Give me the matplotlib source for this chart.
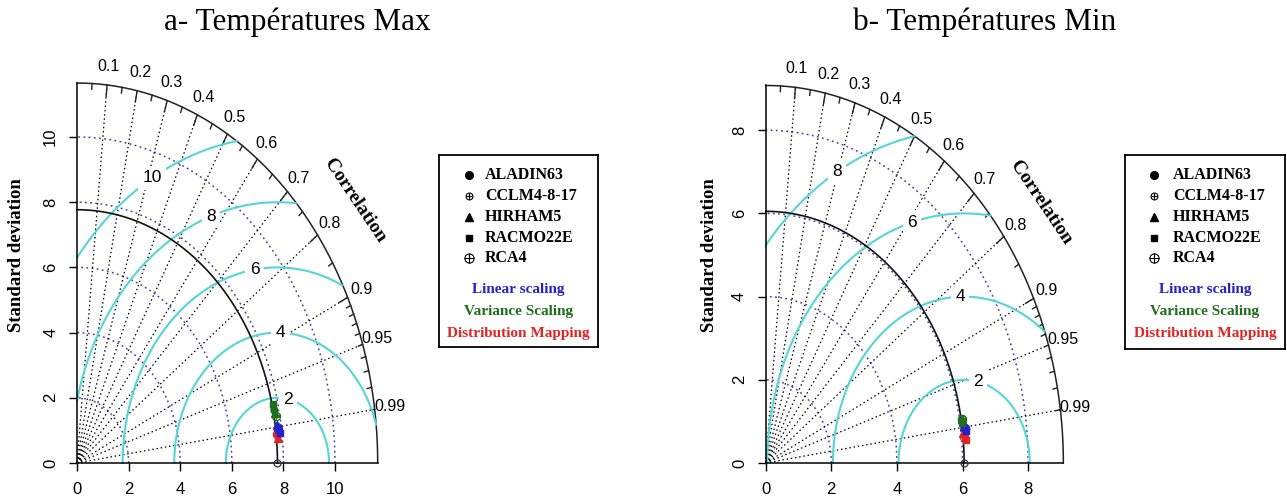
import numpy as np
import matplotlib.pyplot as plt

# figure size in pixels
W, H = 1287, 501

models = ['ALADIN63', 'CCLM4-8-17', 'HIRHAM5', 'RACMO22E', 'RCA4']
methods = ['Linear scaling', 'Variance Scaling', 'Distribution Mapping']
method_cols = ['#2323c8', '#1e6e1e', '#e02525']
corr_labels = [0.1, 0.2, 0.3, 0.4, 0.5, 0.6, 0.7, 0.8, 0.9, 0.95, 0.99]

# a- Temperatures Max
tmax_ref_sd = 7.77
tmax_ticks = [0, 2, 4, 6, 8, 10]
tmax_gammas = [2, 4, 6, 8, 10]
tmax_ls_sd = [7.86, 7.90, 7.84, 7.92, 7.88]
tmax_ls_cor = [0.990, 0.992, 0.989, 0.993, 0.991]
tmax_vs_sd = [7.82, 7.80, 7.84, 7.79, 7.83]
tmax_vs_cor = [0.978, 0.975, 0.981, 0.973, 0.983]
tmax_dm_sd = [7.80, 7.86, 7.83, 7.88, 7.82]
tmax_dm_cor = [0.994, 0.992, 0.995, 0.993, 0.9935]

# b- Temperatures Min
tmin_ref_sd = 6.05
tmin_ticks = [0, 2, 4, 6, 8]
tmin_gammas = [2, 4, 6, 8]
tmin_ls_sd = [6.12, 6.15, 6.10, 6.17, 6.13]
tmin_ls_cor = [0.990, 0.991, 0.9895, 0.992, 0.9905]
tmin_vs_sd = [6.06, 6.08, 6.07, 6.05, 6.09]
tmin_vs_cor = [0.986, 0.984, 0.985, 0.987, 0.9845]
tmin_dm_sd = [6.09, 6.11, 6.07, 6.12, 6.08]
tmin_dm_cor = [0.994, 0.995, 0.993, 0.996, 0.9945]

SANS = 'Liberation Sans'
SERIF = 'Liberation Serif'
BLUE_ARC = '#4444a8'
CYAN = '#55d5d5'
DOT = (0, (1.2, 2.2))


def model_marker(ax, x, y, k, col, big=1.0):
    # marker shapes as in R pch: 16, 10 (small), 17, 15, 10
    kw = dict(color=col, clip_on=False, zorder=10, linestyle='none')
    if k == 0:
        ax.plot(x, y, marker='o', ms=5 * big, mec=col, mfc=col, **kw)
    elif k == 1:
        ax.plot(x, y, marker='o', ms=4.5 * big, mfc='none', mew=0.8, **kw)
        ax.plot(x, y, marker='+', ms=4.5 * big, mew=0.8, **kw)
    elif k == 2:
        ax.plot(x, y, marker='^', ms=5.5 * big, mec=col, mfc=col, **kw)
    elif k == 3:
        ax.plot(x, y, marker='s', ms=4.5 * big, mec=col, mfc=col, **kw)
    else:
        ax.plot(x, y, marker='o', ms=6 * big, mfc='none', mew=0.8, **kw)
        ax.plot(x, y, marker='+', ms=6 * big, mew=0.8, **kw)


def taylor(fig, ox, oy, sx, sy, ref, ticks, gammas, series, title, tx):
    maxsd = 1.5 * ref
    ax = fig.add_axes([ox / W, (H - oy) / H, sx * maxsd / W, sy * maxsd / H])
    ax.set_xlim(0, maxsd)
    ax.set_ylim(0, maxsd)
    ax.patch.set_visible(False)
    for s in ['top', 'right']:
        ax.spines[s].set_visible(False)
    for s in ['bottom', 'left']:
        ax.spines[s].set_linewidth(1.1)
    ax.set_xticks(ticks)
    ax.set_yticks(ticks)
    ax.set_yticklabels([str(t) for t in ticks], rotation=90, va='center')
    ax.tick_params(axis='x', direction='out', length=5.5, width=1, pad=8,
                   labelsize=12)
    ax.tick_params(axis='y', direction='out', length=5.5, width=1, pad=8,
                   labelsize=12)
    for lab in ax.get_xticklabels() + ax.get_yticklabels():
        lab.set_family(SANS)

    t = np.linspace(0, np.pi / 2, 300)
    # sd arcs
    for s in ticks[1:]:
        ax.plot(s * np.cos(t), s * np.sin(t), color=BLUE_ARC, lw=1.1,
                ls=DOT, clip_on=False)
    # outer arc
    ax.plot(maxsd * np.cos(t), maxsd * np.sin(t), color='#222222', lw=1.1,
            clip_on=False)
    # correlation lines
    for c in corr_labels:
        a = np.arccos(c)
        ax.plot([0, maxsd * np.cos(a)], [0, maxsd * np.sin(a)], color='black',
                lw=0.9, ls=DOT, clip_on=False)
        ax.text(1.05 * maxsd * np.cos(a), 1.05 * maxsd * np.sin(a), str(c),
                ha='center', va='center', fontsize=11.5, family=SANS)
    # ticks on outer arc
    for c in np.arange(0.1, 0.95, 0.1):
        a = np.arccos(c)
        ax.plot([maxsd * np.cos(a), 0.97 * maxsd * np.cos(a)],
                [maxsd * np.sin(a), 0.97 * maxsd * np.sin(a)],
                color='#222222', lw=1, clip_on=False)
    for c in list(np.arange(0.05, 0.9, 0.1)) + list(np.arange(0.91, 1.0, 0.01)):
        a = np.arccos(c)
        ax.plot([maxsd * np.cos(a), 0.985 * maxsd * np.cos(a)],
                [maxsd * np.sin(a), 0.985 * maxsd * np.sin(a)],
                color='#222222', lw=1, clip_on=False)
    # centred RMS arcs
    tg = np.linspace(0, np.pi, 600)
    labang = np.radians(np.linspace(78, 119, len(gammas)))
    for g, la in zip(gammas, labang):
        gx = ref + g * np.cos(tg)
        gy = g * np.sin(tg)
        keep = (gx >= 0) & (gx ** 2 + gy ** 2 <= maxsd ** 2)
        ax.plot(np.where(keep, gx, np.nan), np.where(keep, gy, np.nan),
                color=CYAN, lw=1.5, clip_on=False)
        ax.text(ref + g * np.cos(la), g * np.sin(la), str(g), ha='center',
                va='center', fontsize=12.5, family=SANS, zorder=8,
                bbox=dict(boxstyle='square,pad=0.25', fc='white', ec='none'))
    # reference sd arc and point
    ax.plot(ref * np.cos(t), ref * np.sin(t), color='#111111', lw=1.2,
            clip_on=False)
    ax.plot(ref, 0, marker='o', ms=5, mfc='none', mec='#333333', mew=0.9,
            clip_on=False, zorder=11)
    # model points, one colour per correction method
    for sds, cors, col in series:
        for k, (s, c) in enumerate(zip(sds, cors)):
            a = np.arccos(c)
            model_marker(ax, s * np.cos(a), s * np.sin(a), k, col)

    ax.text(0.925 * maxsd, 0.69 * maxsd, 'Correlation', rotation=-56,
            rotation_mode='anchor', ha='center', va='center', fontsize=14,
            family=SERIF, weight='bold')
    fig.text(tx / W, 1 - 22 / H, title, ha='center', va='center',
             fontsize=22.5, family=SERIF)
    return ax


def legend_box(fig, x0, y0, x1, y1, mx, tx):
    lax = fig.add_axes([x0 / W, (H - y1) / H, (x1 - x0) / W, (y1 - y0) / H])
    lax.set_xlim(x0, x1)
    lax.set_ylim(y1, y0)
    lax.set_xticks([])
    lax.set_yticks([])
    for s in lax.spines.values():
        s.set_linewidth(1.3)
    rows = [175, 196, 217, 238, 258]
    for k, (m, yy) in enumerate(zip(models, rows)):
        model_marker(lax, mx, yy, k, 'black', big=1.1)
        lax.text(tx, yy, m, ha='left', va='center', fontsize=11.5,
                 family=SERIF, weight='bold')
    for m, col, yy in zip(methods, method_cols, [290, 312, 333]):
        lax.text((x0 + x1) / 2, yy, m, ha='center', va='center',
                 fontsize=11, family=SERIF, weight='bold', color=col)


fig = plt.figure(figsize=(W / 100, H / 100), dpi=100)

ls_c, vs_c, dm_c = method_cols
taylor(fig, 77, 463, 25.8, 32.6, tmax_ref_sd, tmax_ticks, tmax_gammas,
       [(tmax_dm_sd, tmax_dm_cor, dm_c), (tmax_ls_sd, tmax_ls_cor, ls_c),
        (tmax_vs_sd, tmax_vs_cor, vs_c)], 'a- Températures Max', 297)
taylor(fig, 765.7, 463, 32.8, 41.6, tmin_ref_sd, tmin_ticks, tmin_gammas,
       [(tmin_dm_sd, tmin_dm_cor, dm_c), (tmin_ls_sd, tmin_ls_cor, ls_c),
        (tmin_vs_sd, tmin_vs_cor, vs_c)], 'b- Températures Min', 985)

for xl in [17, 710]:
    fig.text(xl / W, 1 - 255 / H, 'Standard deviation', rotation=90,
             ha='center', va='center', fontsize=13.5, family=SERIF,
             weight='bold')

legend_box(fig, 439, 155, 598, 347, 469, 485)
legend_box(fig, 1125, 155, 1285, 349, 1154, 1173)

fig.savefig('out.png', dpi=100)
